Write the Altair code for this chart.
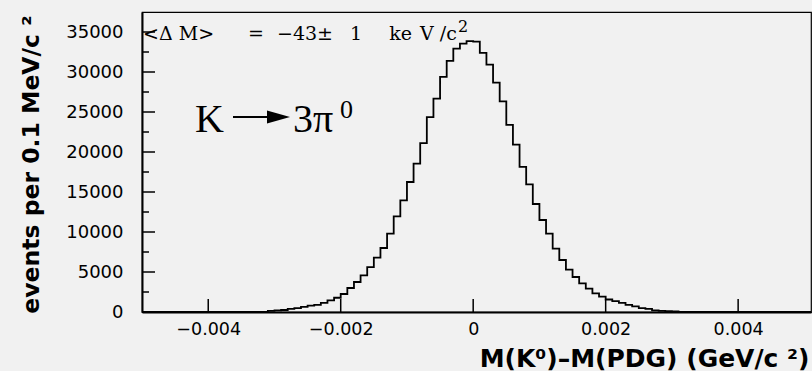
import altair as alt
import pandas as pd

# ---------------- data ----------------
# histogram of M(K0)-M(PDG), bins of 0.1 MeV/c^2 (0.0001 GeV/c^2)
first_bin_left = -0.0031
bin_width = 0.0001
counts = [150, 200, 250, 400, 480, 640, 800, 900, 1150, 1450,
          1780, 2250, 3000, 3750, 4580, 5620, 6800, 8000, 9800, 11950,
          13960, 16250, 18540, 21100, 24350, 26670, 29380, 31380, 32920, 33550,
          33850, 33800, 32400, 30920, 28670, 26340, 23380, 20920, 18130, 15950,
          13500, 11500, 9800, 7920, 6500, 5300, 4375, 3580, 2920, 2340,
          1920, 1560, 1350, 1150, 900, 700, 480, 400, 200, 150,
          100, 80]

x_domain = [-0.005, 0.0051]
y_domain = [0, 37500]
x_major = [-0.004, -0.002, 0.0, 0.002, 0.004]
y_major = [0, 5000, 10000, 15000, 20000, 25000, 30000, 35000]
y_minor = [2500, 7500, 12500, 17500, 22500, 27500, 32500]

x_title = "M(K⁰)–M(PDG) (GeV/c ²)"
y_title = "events per 0.1 MeV/c ²"

# ---------------- table for the step line ----------------
edges = [round(first_bin_left + i * bin_width, 5) for i in range(len(counts) + 1)]
xs = [x_domain[0]] + edges + [x_domain[1]]
ys = [0] + counts + [0, 0]
hist = pd.DataFrame({"x": xs, "count": ys})

xs_scale = alt.Scale(domain=x_domain, nice=False, zero=False)
ys_scale = alt.Scale(domain=y_domain, nice=False)

x_axis = alt.Axis(
    values=x_major, ticks=False, tickSize=0, grid=False,
    labelPadding=22, labelBaseline="alphabetic",
    labelFont="DejaVu Sans", labelFontSize=17.5, labelColor="black",
    labelExpr="datum.value == 0 ? '0' : format(datum.value, '.3f')",
    domainColor="black", domainWidth=2,
    title=x_title, titleFont="DejaVu Sans", titleFontWeight="bold",
    titleFontSize=25, titleColor="black", titleAlign="right",
    titleBaseline="alphabetic", titleX=667, titleY=54)
y_axis = alt.Axis(
    values=y_major, format="d", ticks=False, tickSize=0, grid=False,
    labelPadding=19, labelFont="DejaVu Sans", labelFontSize=18,
    labelColor="black", domainColor="black", domainWidth=2,
    title=y_title, titleFont="DejaVu Sans", titleFontWeight="bold",
    titleFontSize=23.5, titleColor="black", titleAngle=270,
    titleAlign="right", titleBaseline="alphabetic",
    titleX=-104, titleY=3)

BG = "#f1f1f1"

line = alt.Chart(hist).mark_line(
    interpolate="step-after", color="black", strokeWidth=1.8, clip=True
).encode(
    x=alt.X("x:Q", scale=xs_scale, axis=x_axis),
    y=alt.Y("count:Q", scale=ys_scale, axis=y_axis),
)

# inward ticks
ymaj = alt.Chart(pd.DataFrame({"count": y_major})).mark_rule(
    color="black", strokeWidth=1.5).encode(
    y=alt.Y("count:Q", scale=ys_scale, axis=y_axis),
    x=alt.value(0), x2=alt.value(13))
ymin = alt.Chart(pd.DataFrame({"count": y_minor})).mark_rule(
    color="black", strokeWidth=1.5).encode(
    y=alt.Y("count:Q", scale=ys_scale, axis=y_axis),
    x=alt.value(0), x2=alt.value(7))
xmaj = alt.Chart(pd.DataFrame({"x": x_major})).mark_rule(
    color="black", strokeWidth=1.5).encode(
    x=alt.X("x:Q", scale=xs_scale, axis=x_axis),
    y=alt.value(300), y2=alt.value(287))

def label(text, x, y, size, align="left", font="DejaVu Serif"):
    return alt.Chart(pd.DataFrame({"t": [text]})).mark_text(
        align=align, baseline="alphabetic", font=font, fontSize=size,
        color="black").encode(x=alt.value(x), y=alt.value(y), text="t:N")

# <ΔM> annotation (stretched in the original: placed in pieces)
dm = [
    label("<Δ M>", 1, 28, 19),
    label("=", 114, 28, 19, "center"),
    label("−43±", 163, 28, 19, "center"),
    label("1", 214, 28, 19, "center"),
    label("ke", 270, 28, 19, "right"),
    label("V /c", 278, 28, 19),
    label("2", 316, 20, 16),
]

# K -> 3pi0 annotation
kk = [
    label("K", 53, 120, 40, font="Liberation Serif"),
    label("3π", 151, 120, 40, font="Liberation Serif"),
    label("0", 198, 106, 26, font="Liberation Serif"),
]
arrow_line = alt.Chart(pd.DataFrame({"t": [0]})).mark_rule(
    color="black", strokeWidth=2).encode(
    x=alt.value(91), x2=alt.value(128), y=alt.value(105))
arrow_head = alt.Chart(pd.DataFrame({"t": [0]})).mark_point(
    shape="M-1,-0.57L1,0L-1,0.57Z", filled=True, color="black",
    opacity=1, size=529).encode(x=alt.value(136.5), y=alt.value(105))

chart = alt.layer(
    line, ymaj, ymin, xmaj, *dm, *kk, arrow_line, arrow_head
).properties(
    width=669, height=300,
    background=BG,
    padding={"left": 142, "top": 12, "right": 1, "bottom": 59},
    autosize=alt.AutoSizeParams(type="none"),
).configure_view(
    stroke="black", strokeWidth=1.2, fill=BG
)

chart.save("out.html", embed_options={"renderer": "svg", "actions": False})
